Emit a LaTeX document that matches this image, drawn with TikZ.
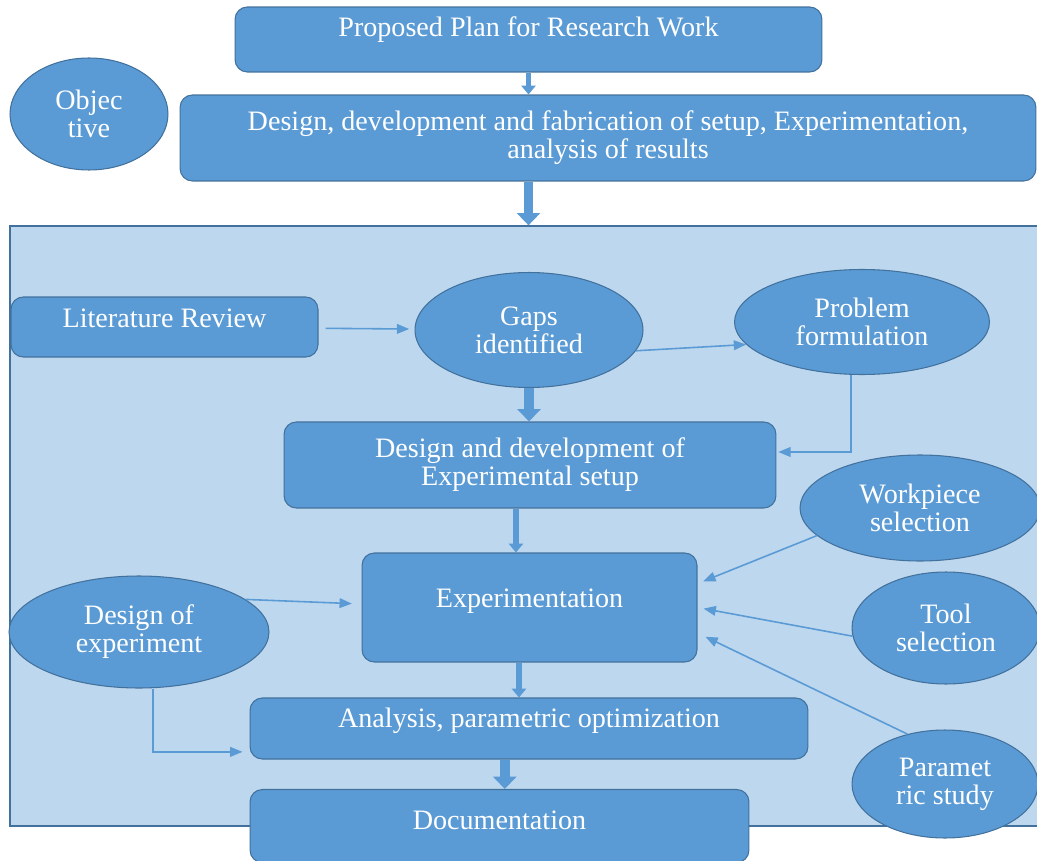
\documentclass[tikz,border=0pt]{standalone}
\usepackage{fontspec}
\setmainfont{Liberation Serif}
\usetikzlibrary{shapes.geometric,arrows.meta}
\definecolor{boxfill}{HTML}{5B9BD5}
\definecolor{boxline}{HTML}{41719C}
\definecolor{panelfill}{HTML}{BDD7EE}
\tikzset{
box/.style=
    {rectangle,rounded corners=7pt,
    fill=boxfill,
    draw=boxline,
    line width=0.6pt,
    text=white,
    align=center,
    font=\fontsize{16}{16}\selectfont
    },
oval/.style=
    {ellipse,
    fill=boxfill,
    draw=boxline,
    line width=0.6pt,
    text=white,
    align=center,
    inner sep=0pt,
    font=\fontsize{16}{16}\selectfont
    },
panel/.style=
    {rectangle,
    fill=panelfill,
    draw=boxline,
    line width=0.8pt
    },
link/.style=
    {draw=boxfill,
    line width=0.9pt,
    -{Triangle[length=7pt,width=5.5pt]}
    },
bigarrow/.style=
    {draw=boxfill,
    line width=5.5pt,
    -{Triangle[length=7pt,width=13pt]}
    },
smallarrow/.style=
    {draw=boxfill,
    line width=3.4pt,
    -{Triangle[length=5pt,width=8pt]}
    }}
\begin{document}
\begin{tikzpicture}[x=0.02cm,y=-0.02cm]
\useasboundingbox (0,0) rectangle (1037,861);

\node[panel,minimum width=20.7cm,minimum height=12cm] (panel) at (527.5,526) {};

\node[box,minimum width=11.74cm,minimum height=1.3cm,text depth=15pt] (plan) at (528.5,39.5) {Proposed Plan for Research Work};
\node[oval,minimum width=3.16cm,minimum height=2.24cm] (obj) at (89,114) {Objec\\tive};
\node[box,minimum width=17.12cm,minimum height=1.72cm] (aim) at (608,138) {Design, development and fabrication of setup, Experimentation,\\analysis of results};

\node[box,minimum width=6.14cm,minimum height=1.2cm,text depth=10pt] (litrev) at (164.5,327) {Literature Review};
\node[oval,minimum width=4.56cm,minimum height=2.3cm] (gaps) at (529,330) {Gaps\\identified};
\node[oval,minimum width=5.1cm,minimum height=2.1cm] (prob) at (862,322) {Problem\\formulation};
\node[box,minimum width=9.84cm,minimum height=1.72cm] (dev) at (530,465) {Design and development of\\Experimental setup};
\node[oval,minimum width=4.8cm,minimum height=2.12cm] (work) at (920,508) {Workpiece\\selection};
\node[box,minimum width=6.7cm,minimum height=2.18cm,text depth=11pt] (exp) at (529.5,607.5) {Experimentation};
\node[oval,minimum width=5.2cm,minimum height=2.24cm] (doe) at (139,632) {Design of\\experiment};
\node[oval,minimum width=3.76cm,minimum height=2.24cm] (tool) at (946,628) {Tool\\selection};
\node[box,minimum width=11.16cm,minimum height=1.22cm,text depth=12pt] (anal) at (529,728.5) {Analysis, parametric optimization};
\node[box,minimum width=9.98cm,minimum height=1.46cm,text depth=7pt] (doc) at (499.5,826) {Documentation};
\node[oval,minimum width=3.72cm,minimum height=2.16cm] (param) at (945,784) {Paramet\\ric study};

\draw[smallarrow] (plan.south) -- (plan.south |- aim.north);
\draw[bigarrow] (plan.south |- aim.south) -- (plan.south |- panel.north);
\draw[bigarrow] (gaps.south) -- (gaps.south |- dev.north);
\draw[smallarrow] ([xshift=-8pt]dev.south) -- ([xshift=-8pt]dev.south |- exp.north);
\draw[smallarrow] ([xshift=-6pt]exp.south) -- ([xshift=-6pt]exp.south |- anal.north);
\draw[bigarrow] ([xshift=3pt]doc.north |- anal.south) -- ([xshift=3pt]doc.north);

\draw[link,shorten <=4pt,shorten >=3pt] (litrev) -- (gaps);
\draw[link] (gaps.-11) -- (prob.191);
\draw[link,shorten >=1pt] ([xshift=-6.2pt]prob.south) |- ([yshift=7.4pt]dev.east);
\draw[link,shorten >=5.5pt] (doe.17) -- ([yshift=2pt]exp.west);
\draw[link,shorten >=3.5pt] (work.195) -- ([yshift=13.6pt]exp.east);
\draw[link,shorten >=3.5pt] (tool.185) -- (exp.east);
\draw[link,shorten >=5pt] (param.127) -- ([yshift=-14.5pt]exp.east);
\draw[link,shorten >=4pt] ([xshift=8pt]doe.south) |- ([yshift=-13.3pt]anal.west);

\end{tikzpicture}
\end{document}
